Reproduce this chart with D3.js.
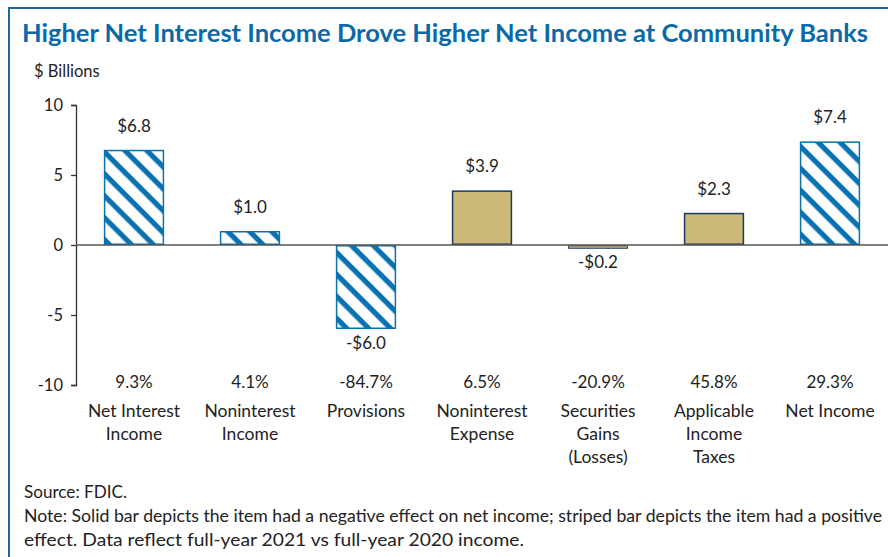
<!DOCTYPE html>
<html><head><meta charset="utf-8">
<script src="https://cdn.jsdelivr.net/npm/d3@7"></script>
<style>body{margin:0;background:#fff}svg{display:block}</style>
</head><body>
<script>
const categories = [["Net Interest","Income"],["Noninterest","Income"],["Provisions"],["Noninterest","Expense"],["Securities","Gains","(Losses)"],["Applicable","Income","Taxes"],["Net Income"]];
const values = [6.8, 1.0, -6.0, 3.9, -0.2, 2.3, 7.4];
const valueLabels = ["$6.8","$1.0","-$6.0","$3.9","-$0.2","$2.3","$7.4"];
const pctChange = ["9.3%","4.1%","-84.7%","6.5%","-20.9%","45.8%","29.3%"];
const striped = [true, true, true, false, false, false, true];
const yTicks = [10, 5, 0, -5, -10];

const W = 888, H = 557;
const font = "'Source Sans Pro','Lato','Open Sans',sans-serif";
const blue = "#0a72b0", tan = "#cbb97a", navy = "#1b3b5c", txt = "#222";
const svg = d3.select("body").append("svg").attr("width", W).attr("height", H);

const defs = svg.append("defs");
const pat = defs.append("pattern").attr("id","stripe").attr("patternUnits","userSpaceOnUse")
  .attr("width",15.5).attr("height",15.5).attr("patternTransform","rotate(45)");
pat.append("rect").attr("width",15.5).attr("height",15.5).attr("fill","#fff");
pat.append("rect").attr("width",15.5).attr("height",5.2).attr("fill",blue);

// frame
svg.append("path").attr("d",`M9,${H+5} V8 H${W+5}`).attr("fill","none").attr("stroke","#1a6aa0").attr("stroke-width",2);

svg.append("text").attr("x",22).attr("y",42).attr("fill","#0a6aa8").attr("font-family",font)
  .attr("font-weight","bold").attr("font-size",24.5).attr("textLength",846).attr("lengthAdjust","spacingAndGlyphs")
  .text("Higher Net Interest Income Drove Higher Net Income at Community Banks");
svg.append("text").attr("x",34).attr("y",77).attr("fill",txt).attr("font-family",font).attr("font-size",16.5).text("$ Billions");

const y = d3.scaleLinear().domain([-10,10]).range([385,105]);
const x = d3.scaleBand().domain(d3.range(values.length)).range([76,888]).paddingInner(0.48).paddingOuter(0.24);

const yAxis = svg.append("g").attr("transform","translate(76,0)")
  .call(d3.axisLeft(y).tickValues(yTicks).tickSize(5).tickPadding(8).tickFormat(d => String(d)));
yAxis.select(".domain").attr("stroke","#333").attr("stroke-width",1.3);
yAxis.selectAll(".tick line").attr("stroke","#333").attr("stroke-width",1.3);
yAxis.selectAll("text").attr("font-family",font).attr("font-size",16.5).attr("fill",txt);

const bars = svg.append("g");
values.forEach((v,i)=>{
  const y0 = y(Math.max(0,v)), h = Math.abs(y(v)-y(0));
  bars.append("rect").attr("x",x(i)+0.75).attr("y",y0+0.75).attr("width",x.bandwidth()-1.5).attr("height",Math.max(h-1.5,2.5))
    .attr("fill", striped[i] ? "url(#stripe)" : tan)
    .attr("stroke", striped[i] ? blue : navy).attr("stroke-width", h < 5 ? 1 : 1.5);
});

svg.append("line").attr("x1",76).attr("x2",888).attr("y1",y(0)).attr("y2",y(0)).attr("stroke","#555").attr("stroke-width",1.5);

const cx = i => x(i)+x.bandwidth()/2;
values.forEach((v,i)=>{
  svg.append("text").attr("x",cx(i)).attr("y", v>=0 ? y(v)-18 : y(v)+20)
    .attr("text-anchor","middle").attr("font-family",font).attr("font-size",17).attr("fill",txt).text(valueLabels[i]);
  svg.append("text").attr("x",cx(i)).attr("y",388).attr("text-anchor","middle").attr("font-family",font)
    .attr("font-size",17).attr("fill",txt).text(pctChange[i]);
  const t = svg.append("text").attr("text-anchor","middle").attr("font-family",font).attr("font-size",17.5).attr("fill",txt);
  categories[i].forEach((ln,k)=>t.append("tspan").attr("x",cx(i)).attr("y",417+k*23).text(ln));
});

const foot = ["Source: FDIC.","Note: Solid bar depicts the item had a negative effect on net income; striped bar depicts the item had a positive","effect. Data reflect full-year 2021 vs full-year 2020 income."];
const footLen = [103, 858, 500];
foot.forEach((s,k)=>{
  svg.append("text").attr("x",24).attr("y",498+k*24).attr("font-family",font).attr("font-size",16.5).attr("fill",txt)
    .attr("textLength",footLen[k]).attr("lengthAdjust","spacingAndGlyphs").text(s);
});
</script>
</body></html>
